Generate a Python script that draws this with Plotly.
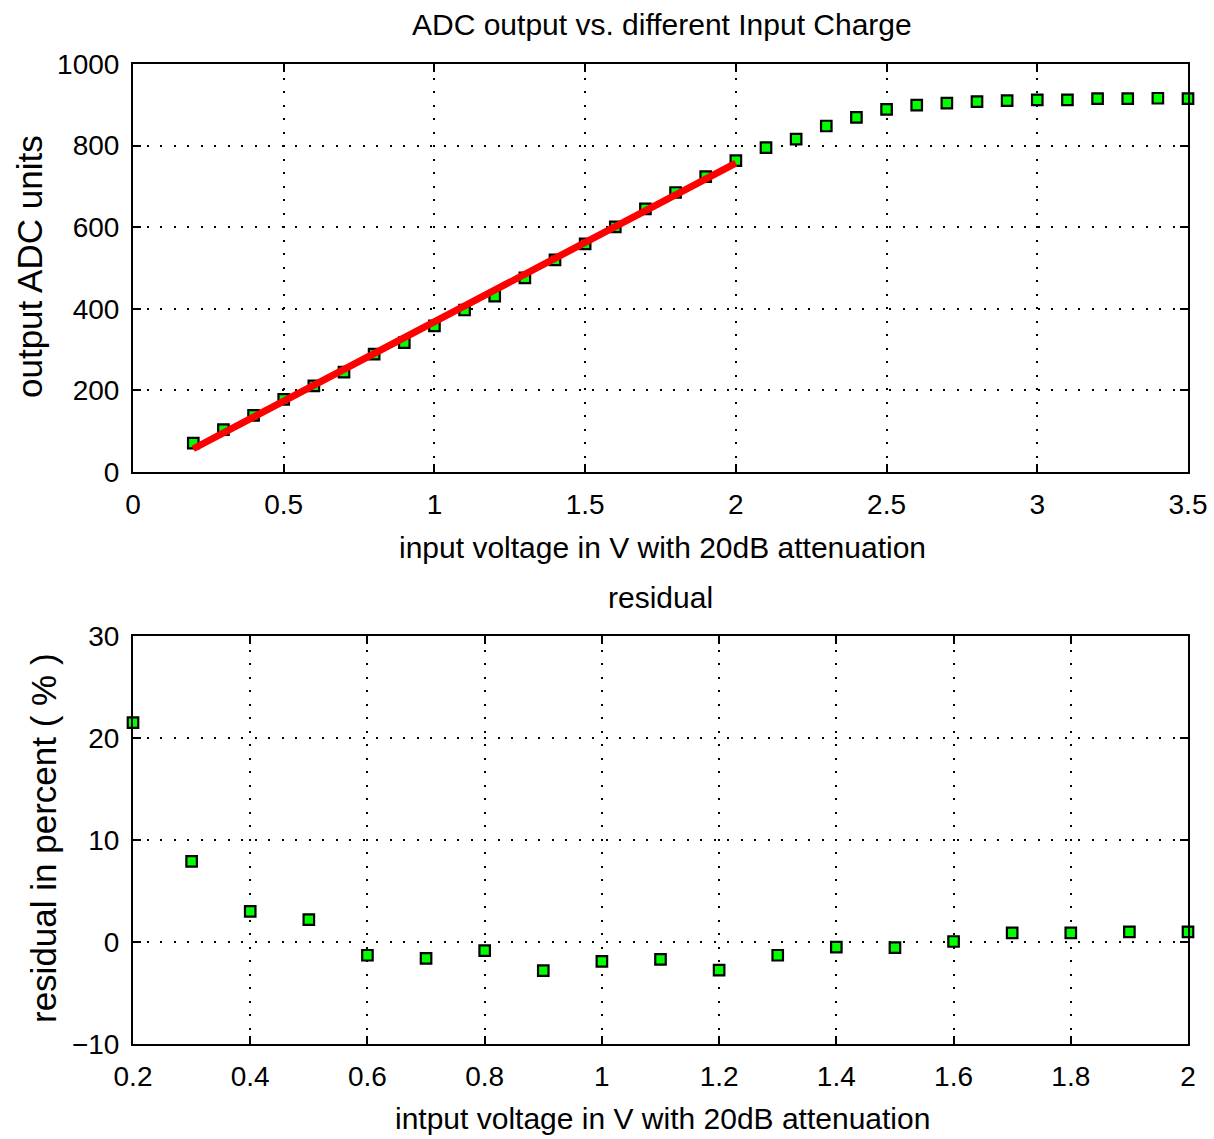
import plotly.graph_objects as go

# ---- data ----
x_top = [0.2, 0.3, 0.4, 0.5, 0.6, 0.7, 0.8, 0.9, 1.0, 1.1, 1.2, 1.3, 1.4, 1.5, 1.6, 1.7, 1.8,
         1.9, 2.0, 2.1, 2.2, 2.3, 2.4, 2.5, 2.6, 2.7, 2.8, 2.9, 3.0, 3.1, 3.2, 3.3, 3.4, 3.5]
adc_out = [71, 104, 139, 178, 211, 245, 289, 317, 358, 397, 431, 476, 520, 559, 601, 645, 685,
           724, 763, 795, 816, 848, 869, 889, 899, 904, 908, 910, 912, 912, 915, 915, 916, 915]
fit_x = [0.2, 2.0]
fit_y = [57, 757]

x_res = [0.2, 0.3, 0.4, 0.5, 0.6, 0.7, 0.8, 0.9, 1.0, 1.1, 1.2, 1.3, 1.4, 1.5, 1.6, 1.7, 1.8, 1.9, 2.0]
residual = [21.5, 7.9, 3.0, 2.2, -1.3, -1.6, -0.85, -2.8, -1.9, -1.7, -2.75, -1.3, -0.5, -0.55,
            0.05, 0.9, 0.9, 1.0, 1.0]

top_xticks = [0, 0.5, 1, 1.5, 2, 2.5, 3, 3.5]
top_xticklabels = ["0", "0.5", "1", "1.5", "2", "2.5", "3", "3.5"]
top_yticks = [0, 200, 400, 600, 800, 1000]
bot_xticks = [0.2, 0.4, 0.6, 0.8, 1.0, 1.2, 1.4, 1.6, 1.8, 2.0]
bot_xticklabels = ["0.2", "0.4", "0.6", "0.8", "1", "1.2", "1.4", "1.6", "1.8", "2"]
bot_yticks = [-10, 0, 10, 20, 30]
bot_yticklabels = ["\u221210", "0", "10", "20", "30"]

FONT = "Liberation Sans, Arial, Helvetica, sans-serif"
FS_TICK = 28
FS_TEXT = 30
FS_YTITLE = 35

marker = dict(symbol="square", size=10.5, color="#00ff00", line=dict(color="black", width=2.2))

fig = go.Figure()
fig.add_trace(go.Scatter(x=x_top, y=adc_out, mode="markers", marker=marker,
                         xaxis="x", yaxis="y", showlegend=False, cliponaxis=False))
fig.add_trace(go.Scatter(x=fit_x, y=fit_y, mode="lines", line=dict(color="#ff0000", width=7),
                         xaxis="x", yaxis="y", showlegend=False))
fig.add_trace(go.Scatter(x=x_res, y=residual, mode="markers", marker=marker,
                         xaxis="x2", yaxis="y2", showlegend=False, cliponaxis=False))

W, H = 1214, 1139
axcommon = dict(showline=True, linecolor="black", linewidth=2, mirror="ticks",
                ticks="inside", ticklen=8, tickwidth=2, tickcolor="black",
                showgrid=True, gridcolor="black", gridwidth=1.5, griddash="2px,11.5px",
                zeroline=False, automargin=False,
                tickfont=dict(family=FONT, size=FS_TICK, color="black"),
                ticklabelstandoff=6)

fig.update_layout(
    width=W, height=H,
    margin=dict(l=0, r=0, t=0, b=0, pad=0),
    paper_bgcolor="white", plot_bgcolor="white",
    xaxis=dict(domain=[133 / W, 1188 / W], range=[0, 3.5], tickvals=top_xticks,
               ticktext=top_xticklabels, anchor="y", **axcommon),
    yaxis=dict(domain=[(H - 472) / H, (H - 64) / H], range=[0, 1000], tickvals=top_yticks,
               anchor="x", **axcommon),
    xaxis2=dict(domain=[133 / W, 1188 / W], range=[0.2, 2.0], tickvals=bot_xticks,
                ticktext=bot_xticklabels, anchor="y2", **axcommon),
    yaxis2=dict(domain=[(H - 1044) / H, (H - 636) / H], range=[-10, 30], tickvals=bot_yticks,
                ticktext=bot_yticklabels, anchor="x2", **axcommon),
)

def ann(text, x, y, angle=0, size=FS_TEXT):
    fig.add_annotation(text=text, x=x / W, y=1 - y / H, xref="paper", yref="paper",
                       showarrow=False, textangle=angle, xanchor="center", yanchor="middle",
                       font=dict(family=FONT, size=size, color="black"))

ann("ADC output vs. different Input Charge", 662, 24)
ann("input voltage in V with 20dB attenuation", 662, 547)
ann("output ADC units", 29, 267, -90, FS_YTITLE)
ann("residual", 660, 597)
ann("intput voltage in V with 20dB attenuation", 662, 1118)
ann("residual in percent ( % )", 43, 838, -90, FS_YTITLE)

fig.write_html("out.html")
